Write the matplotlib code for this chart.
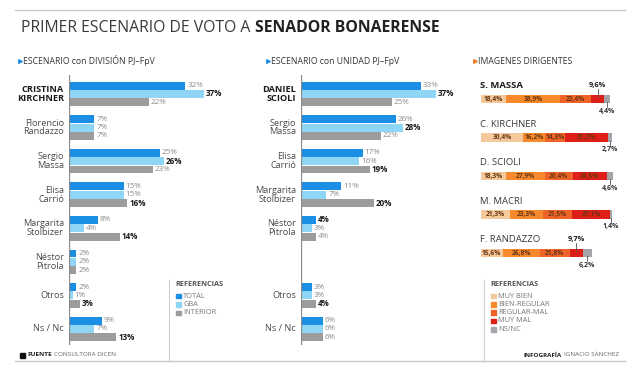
import matplotlib.pyplot as plt
from matplotlib.patches import Rectangle
from matplotlib.lines import Line2D

plt.rcParams['font.family'] = ['Open Sans', 'DejaVu Sans']

W, H = 640, 371

# escenario con division PJ-FpV
div_names = ['CRISTINA\nKIRCHNER', 'Florencio\nRandazzo', 'Sergio\nMassa', 'Elisa\nCarrió',
             'Margarita\nStolbizer', 'Néstor\nPitrola', 'Otros', 'Ns / Nc']
div_total = [32, 7, 25, 15, 8, 2, 2, 9]
div_gba = [37, 7, 26, 15, 4, 2, 1, 7]
div_interior = [22, 7, 23, 16, 14, 2, 3, 13]

# escenario con unidad PJ-FpV (slot 5 left empty, as in the original)
uni_names = ['DANIEL\nSCIOLI', 'Sergio\nMassa', 'Elisa\nCarrió', 'Margarita\nStolbizer',
             'Néstor\nPitrola', 'Otros', 'Ns / Nc']
uni_slots = [0, 1, 2, 3, 4, 6, 7]
uni_total = [33, 26, 17, 11, 4, 3, 6]
uni_gba = [37, 28, 16, 7, 3, 3, 6]
uni_interior = [25, 22, 19, 20, 4, 4, 6]

# imagenes dirigentes
img_names = ['S. MASSA', 'C. KIRCHNER', 'D. SCIOLI', 'M. MACRI', 'F. RANDAZZO']
muy_bien = [18.4, 30.4, 18.3, 21.3, 15.6]
bien_regular = [38.9, 16.2, 27.9, 23.3, 26.8]
regular_mal = [22.4, 14.3, 20.4, 21.5, 21.8]
muy_mal = [9.6, 31.3, 24.5, 27.1, 9.7]
ns_nc = [4.4, 2.7, 4.6, 1.4, 6.2]

C_TOTAL, C_GBA, C_INT = '#1b8fe3', '#8fd5f6', '#9c9c9c'
img_colors = ['#f4c99c', '#f5892c', '#ee6428', '#dc1f17', '#a3a5ab']
img_labels = ['MUY BIEN', 'BIEN-REGULAR', 'REGULAR-MAL', 'MUY MAL', 'NS/NC']

fig = plt.figure(figsize=(6.4, 3.71), dpi=100)
renderer = fig.canvas.get_renderer()


def fx(x):
    return x / W


def fy(y):
    return 1 - y / H


def hline(y, x0, x1, color='#c8c8c8', lw=1.0):
    fig.add_artist(Line2D([fx(x0), fx(x1)], [fy(y), fy(y)], color=color, lw=lw))


def vline(x, y0, y1, color='#d0d0d0', lw=0.8):
    fig.add_artist(Line2D([fx(x), fx(x)], [fy(y0), fy(y1)], color=color, lw=lw))


def run_text(x, y, parts, size):
    # parts: (text, weight, color) placed one after another
    for s, weight, color in parts:
        t = fig.text(fx(x), fy(y), s, fontsize=size, fontweight=weight, color=color, va='center')
        x = t.get_window_extent(renderer).x1 + size * 0.45


# frame lines
hline(10, 15, 625)
hline(361, 15, 625)
vline(169, 280, 361)
vline(484, 280, 361)

# title
run_text(21, 28, [('PRIMER ESCENARIO DE VOTO A', 'normal', '#3a3a3a'),
                  ('SENADOR BONAERENSE', 'bold', '#222222')], 11.3)

# subtitles
for x, txt, col in [(20, 'ESCENARIO con DIVISIÓN PJ–FpV', C_TOTAL),
                    (268, 'ESCENARIO con UNIDAD PJ–FpV', C_TOTAL),
                    (475, 'IMAGENES DIRIGENTES', '#f07a2a')]:
    fig.add_artist(Line2D([fx(x)], [fy(61)], marker='>', ms=2.6, color=col, lw=0))
    fig.text(fx(x + 3), fy(61), txt, fontsize=6.2, color='#333333', va='center')

SLOT0, SLOT = 94, 33.57
PX_PCT = 3.64


def bar_panel(x0, names, slots, tot, gba, inte):
    ax = fig.add_axes([fx(x0), fy(345), 45 * PX_PCT / W, 270 / H])
    ax.set_xlim(0, 45)
    ax.set_ylim((345 - SLOT0) / SLOT, (75 - SLOT0) / SLOT)
    ax.axis('off')
    ax.axvline(0, color='#8a8a8a', lw=0.9)
    off, hgt = 0.25, 0.235
    for k, (vals, col) in enumerate([(tot, C_TOTAL), (gba, C_GBA), (inte, C_INT)]):
        ys = [s + (k - 1) * off for s in slots]
        ax.barh(ys, vals, height=hgt, color=col, left=0)
    for i, s in enumerate(slots):
        trio = [tot[i], gba[i], inte[i]]
        best = trio.index(max(trio)) if len(set(trio)) > 1 else -1
        for k, v in enumerate(trio):
            bold = k == best
            ax.text(v + 0.5, s + (k - 1) * off, f'{v}%', fontsize=5.8, va='center',
                    fontweight='bold' if bold else 'normal',
                    color='#1a1a1a' if bold else '#8a8a8a')
        ax.text(-1.4, s, names[i], ha='right', va='center', fontsize=6.6,
                color='#1a1a1a' if i == 0 else '#4a4a4a',
                fontweight='bold' if i == 0 else 'normal', linespacing=0.95)
    return ax


bar_panel(69, div_names, list(range(8)), div_total, div_gba, div_interior)
bar_panel(301, uni_names, uni_slots, uni_total, uni_gba, uni_interior)

# stacked image bars
R0, RS = 99, 38.5
axR = fig.add_axes([fx(481), fy(275), 138 / W, 200 / H])
axR.set_xlim(0, 100)
axR.set_ylim((275 - R0) / RS, (75 - R0) / RS)
axR.axis('off')
series = [muy_bien, bien_regular, regular_mal, muy_mal, ns_nc]
ypos = list(range(len(img_names)))
left = [0.0] * len(img_names)
for k, (vals, col) in enumerate(zip(series, img_colors)):
    axR.barh(ypos, vals, left=left, height=0.23, color=col)
    for i, v in enumerate(vals):
        cx = left[i] + v / 2
        lab = f'{v:.1f}'.replace('.', ',') + '%'
        if k == 4:
            axR.plot([cx, cx], [i + 0.08, i + 0.22], color='#555555', lw=0.6)
            axR.text(cx, i + 0.32, lab, fontsize=5, fontweight='bold', color='#333333',
                     ha='center', va='center')
        elif v < 12:
            axR.plot([cx, cx], [i - 0.26, i - 0.06], color='#555555', lw=0.6)
            axR.text(cx, i - 0.36, lab, fontsize=5.3, fontweight='bold', color='#1a1a1a',
                     ha='center', va='center')
        else:
            axR.text(cx, i, lab, fontsize=4.8, fontweight='bold', color='#6a3512',
                     ha='center', va='center')
    left = [a + b for a, b in zip(left, vals)]
for i, name in enumerate(img_names):
    axR.text(-0.5, i - 0.34, name, fontsize=6.8, va='center', ha='left',
             color='#1a1a1a' if i == 0 else '#3a3a3a',
             fontweight='bold' if i == 0 else 'normal')


def legend(x, y, labels, colors, step):
    fig.text(fx(x), fy(y), 'REFERENCIAS', fontsize=5.3, fontweight='bold', color='#555555', va='center')
    for j, (lab, col) in enumerate(zip(labels, colors)):
        yy = y + 11 + j * step
        fig.add_artist(Rectangle((fx(x + 1), fy(yy + 2.3)), 4.6 / W, 4.6 / H, color=col,
                                 transform=fig.transFigure))
        fig.text(fx(x + 8), fy(yy), lab, fontsize=5.3, color='#777777', va='center')


legend(175, 285, ['TOTAL', 'GBA', 'INTERIOR'], [C_TOTAL, C_GBA, C_INT], 8.5)
legend(490, 285, img_labels, img_colors, 8.3)

# footer
fig.add_artist(Rectangle((fx(20), fy(357.5)), 4.5 / W, 4.5 / H, color='#111111',
                         transform=fig.transFigure))
run_text(27, 355, [('FUENTE', 'bold', '#222222'), ('CONSULTORA DICEN', 'normal', '#666666')], 4.6)
run_text(524, 355, [('INFOGRAFÍA', 'bold', '#222222'), ('IGNACIO SÁNCHEZ', 'normal', '#666666')], 4.5)

fig.savefig('out.png', dpi=100, facecolor='white')
